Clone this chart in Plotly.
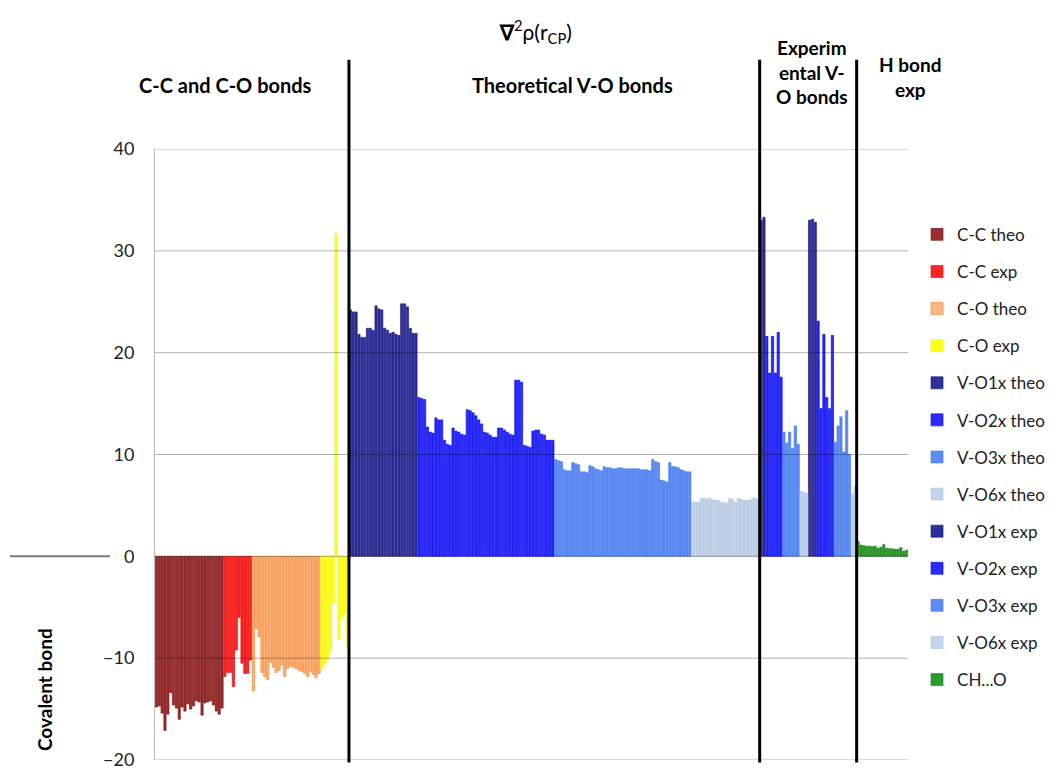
import plotly.graph_objects as go

# Laplacian of the electron density at bond critical points, per bond family
cc_theo = [-14.8, -14.7, -15.4, -17.1, -15.5, -13.4, -14.6, -14.9, -16.0, -14.8, -15.2, -14.5,
           -15.0, -14.7, -14.2, -14.3, -15.6, -14.4, -14.3, -14.2, -14.6, -15.2, -15.5, -14.9]
cc_exp = [-11.8, -11.4, -11.4, -12.8, -9.2, -6.0, -10.5, -11.5, -11.5, -10.2]
co_theo = [-13.2, -7.1, -7.9, -11.4, -11.8, -12.1, -10.4, -10.9, -11.4, -11.2, -10.7, -11.8,
           -11.0, -10.8, -10.9, -11.0, -11.2, -11.3, -11.5, -11.8, -11.3, -11.6, -11.9, -11.5]
co_exp = [-11.0, -10.6, -10.2, -9.4, -4.6, 31.7, -8.2, -6.1, -5.6, -8.9]

vo1_theo = [24.2, 24.0, 24.0, 21.8, 21.5, 21.5, 22.4, 22.4, 22.2, 24.6, 24.3, 24.2,
            22.4, 22.2, 21.9, 22.0, 21.8, 21.7, 24.8, 24.8, 24.5, 22.4, 21.9, 21.9]
vo2_theo = [15.6, 15.5, 15.4, 12.7, 12.2, 12.1, 13.6, 13.4, 13.4, 11.4, 11.0, 10.9,
            12.6, 12.3, 12.2, 12.0, 11.9, 14.4, 14.3, 14.1, 13.8, 13.4, 13.0, 12.2,
            12.1, 11.9, 11.7, 11.7, 12.6, 12.6, 12.4, 12.2, 12.0, 11.9, 17.3, 17.3,
            17.1, 10.9, 10.8, 10.7, 12.3, 12.4, 12.4, 12.0, 11.9, 11.4, 11.4, 11.4]
vo3_theo = [9.5, 9.4, 9.3, 8.5, 8.4, 8.4, 9.2, 9.1, 9.0, 8.3, 8.3, 8.2,
            8.9, 8.8, 8.6, 8.5, 8.4, 8.8, 8.7, 8.7, 8.6, 8.6, 8.7, 8.7,
            8.6, 8.6, 8.6, 8.6, 8.6, 8.6, 8.5, 8.5, 8.5, 8.4, 9.5, 9.3,
            9.2, 7.5, 7.4, 7.3, 9.2, 8.8, 8.8, 8.7, 8.5, 8.4, 8.3, 8.3]
vo6_theo = [5.3, 5.3, 5.3, 5.7, 5.7, 5.6, 5.7, 5.6, 5.5, 5.5, 5.3, 5.3,
            5.2, 5.7, 5.6, 5.3, 5.7, 5.6, 5.5, 5.5, 5.5, 5.7, 5.7, 5.6]

# Experimental V-O bonds: bond type of each bar, in plotting order, and its value
exp_types = (["V-O1x exp"] * 2 + ["V-O2x exp"] * 6 + ["V-O3x exp"] * 6 + ["V-O6x exp"] * 3
             + ["V-O1x exp"] * 3 + ["V-O2x exp"] * 6 + ["V-O3x exp"] * 6 + ["V-O6x exp"] * 2)
exp_values = [33.0, 33.3,
              21.6, 18.0, 21.6, 18.0, 22.0, 17.6,
              12.2, 11.1, 12.2, 10.6, 12.8, 11.0,
              6.4, 6.3, 6.2,
              33.0, 33.1, 32.8,
              23.1, 14.5, 21.8, 15.6, 14.5, 21.7,
              11.2, 12.8, 13.7, 10.25, 14.3, 10.0,
              6.1, 6.9]

ch_o = [1.45, 1.1, 1.05, 1.0, 1.0, 0.95, 1.0, 0.8, 0.9, 1.15, 0.8, 0.75,
        0.75, 0.7, 0.7, 0.85, 0.5, 0.6]

y_ticks = [-20, -10, 0, 10, 20, 30, 40]

# fill colour, edge colour
styles = {
    "C-C theo": ("#9a2e2e", "#7a0e0e"),
    "C-C exp": ("#ff2424", "#e80000"),
    "C-O theo": ("#fcb584", "#f47c22"),
    "C-O exp": ("#ffff1a", "#f2f200"),
    "V-O1x theo": ("#2f2f9c", "#16167c"),
    "V-O2x theo": ("#2b2bff", "#0000e8"),
    "V-O3x theo": ("#5b8cf6", "#3f72ec"),
    "V-O6x theo": ("#c4d4ea", "#aabfdc"),
    "V-O1x exp": ("#2f2f9c", "#16167c"),
    "V-O2x exp": ("#2b2bff", "#0000e8"),
    "V-O3x exp": ("#5b8cf6", "#3f72ec"),
    "V-O6x exp": ("#c4d4ea", "#aabfdc"),
    "CH...O": ("#2c9a2c", "#148014"),
}

# Lay the bars out one after another along a shared index axis
series_x = {name: [] for name in styles}
series_y = {name: [] for name in styles}
pos = 0


def place(name, values):
    global pos
    for v in values:
        series_x[name].append(pos)
        series_y[name].append(v)
        pos += 1


place("C-C theo", cc_theo)
place("C-C exp", cc_exp)
place("C-O theo", co_theo)
place("C-O exp", co_exp)
boundary_1 = pos - 0.5
place("V-O1x theo", vo1_theo)
place("V-O2x theo", vo2_theo)
place("V-O3x theo", vo3_theo)
place("V-O6x theo", vo6_theo)
boundary_2 = pos - 0.5
for t, v in zip(exp_types, exp_values):
    place(t, [v])
boundary_3 = pos - 0.5
place("CH...O", ch_o)
n_bars = pos

fig = go.Figure()
for i, (name, (fill, edge)) in enumerate(styles.items()):
    fig.add_trace(go.Bar(
        x=series_x[name], y=series_y[name], name=name,
        legendgroup=f"g{i}",
        marker=dict(color=fill, line=dict(color=edge, width=0.6)),
        hoverinfo="name+y",
    ))

FONT = "Lato, 'Open Sans', sans-serif"

shapes = []
# grid lines sit over the bars, as translucent grey
for v in y_ticks:
    shapes.append(dict(type="line", xref="paper", x0=0, x1=1, yref="y", y0=v, y1=v,
                       line=dict(color="rgba(0,0,0,0.3)", width=1), layer="above"))
# section separators
for b in (boundary_1, boundary_2, boundary_3):
    shapes.append(dict(type="line", xref="x", x0=b, x1=b, yref="paper", y0=-0.004, y1=1.146,
                       line=dict(color="black", width=3), layer="above"))
# short marker line at zero, left of the axis
shapes.append(dict(type="line", xref="paper", x0=-0.1926, x1=-0.0598, yref="y", y0=0, y1=0,
                   line=dict(color="#7a7a7a", width=2)))

header_font = dict(family=FONT, size=20, color="black")


def note(text, x, y, font, **kw):
    return dict(text=text, x=x, y=y, xref="paper", yref="paper", showarrow=False,
                xanchor="center", yanchor="middle", font=font, **kw)


annotations = [
    note("<b>∇</b><sup>2</sup>ρ(r<sub>CP</sub>)", 0.505, 1.1915,
         dict(family=FONT, size=21, color="black")),
    note("<b>C-C and C-O bonds</b>", 0.093, 1.1047, header_font),
    note("<b>Theoretical V-O bonds</b>", 0.5538, 1.1047, header_font),
    note("<b>Experim<br>ental V-<br>O bonds</b>", 0.8725, 1.126,
         dict(family=FONT, size=19, color="black")),
    note("<b>H bond<br>exp</b>", 1.0027, 1.118, dict(family=FONT, size=19, color="black")),
    note("<b>Covalent bond</b>", -0.146, 0.1146,
         dict(family=FONT, size=19, color="black"), textangle=-90),
]

fig.update_layout(
    width=1062, height=771, autosize=False,
    margin=dict(l=155, r=154, t=149, b=11),
    paper_bgcolor="white", plot_bgcolor="white",
    barmode="overlay", bargap=0.2,
    showlegend=True,
    legend=dict(x=1.012, y=0.889, xanchor="left", yanchor="top",
                traceorder="grouped", tracegroupgap=12,
                font=dict(family=FONT, size=17, color="#222"),
                bgcolor="rgba(0,0,0,0)"),
    xaxis=dict(range=[-0.5, n_bars - 0.5], visible=False, automargin=False),
    yaxis=dict(range=[-20, 40], tickvals=y_ticks, showgrid=False, zeroline=False,
               showline=True, linecolor="#b8b8b8", linewidth=1, ticks="", automargin=False,
               ticklabelstandoff=16, tickfont=dict(family=FONT, size=18, color="#222")),
    shapes=shapes,
    annotations=annotations,
)

fig.write_html("out.html")
